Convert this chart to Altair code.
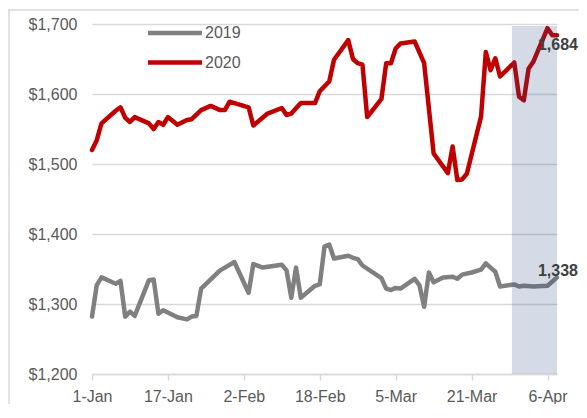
import json
import altair as alt
import pandas as pd

# ---- data (day offset from 1-Jan, gold price USD/oz) ----
days_2020 = [0, 1, 2, 5, 6, 7, 8, 9, 12, 13, 14, 15, 16, 18, 20, 21, 23, 25, 27, 28,
             29, 33, 34, 37, 40, 41, 42, 44, 47, 48, 50, 51, 54, 55, 56, 57, 58, 61,
             62, 63, 64, 65, 68, 70, 72, 75, 76, 77, 78, 79, 82, 83, 84, 85, 86, 89,
             90, 91, 92, 93, 96, 97, 98]
price_2020 = [1520, 1534, 1558, 1576, 1581, 1566, 1560, 1567, 1558, 1550, 1560, 1556,
              1567, 1556, 1563, 1564, 1577, 1583, 1577, 1577, 1589, 1581, 1555, 1572,
              1580, 1570, 1572, 1587, 1587, 1604, 1618, 1649, 1677, 1650, 1644, 1642,
              1567, 1593, 1644, 1644, 1665, 1672, 1675, 1644, 1515, 1487, 1525, 1477,
              1478, 1486, 1568, 1660, 1634, 1651, 1625, 1645, 1596, 1591, 1636, 1646,
              1694, 1684, 1684]

days_2019 = [0, 1, 2, 5, 6, 7, 8, 9, 12, 13, 14, 15, 18, 20, 21, 22, 23, 27, 28, 30,
             33, 34, 36, 40, 41, 42, 43, 44, 47, 48, 49, 50, 51, 54, 55, 56, 57, 61,
             62, 63, 64, 65, 68, 69, 70, 71, 72, 74, 76, 77, 78, 80, 82, 83, 84, 85,
             86, 89, 90, 91, 93, 96, 98]
price_2019 = [1282, 1327, 1338, 1329, 1333, 1282, 1289, 1283, 1334, 1335, 1286, 1291,
              1281, 1278, 1282, 1283, 1322, 1348, 1352, 1360, 1316, 1357, 1352, 1356,
              1348, 1309, 1352, 1309, 1326, 1328, 1382, 1385, 1365, 1369, 1366, 1364,
              1355, 1337, 1322, 1320, 1323, 1322, 1336, 1327, 1296, 1345, 1331, 1338,
              1339, 1336, 1342, 1345, 1349, 1358, 1352, 1346, 1325, 1328, 1325, 1326,
              1325, 1326, 1338]

series_names = ["2019", "2020"]
series_colors = ["#808080", "#C00000"]

tick_days = [0, 16, 32, 48, 64, 80, 96]
tick_labels = ["1-Jan", "17-Jan", "2-Feb", "18-Feb", "5-Mar", "21-Mar", "6-Apr"]
y_ticks = [1200, 1300, 1400, 1500, 1600, 1700]

band_start, band_end = 88.5, 98
band_low, band_high = 1200, 1697

FONT = "Liberation Sans"

# ---- tables ----
df = pd.concat([
    pd.DataFrame({"day": days_2019, "price": price_2019, "year": "2019"}),
    pd.DataFrame({"day": days_2020, "price": price_2020, "year": "2020"}),
], ignore_index=True)

band_df = pd.DataFrame({"x1": [band_start], "x2": [band_end],
                        "y1": [band_low], "y2": [band_high]})
last_2020 = pd.DataFrame({"day": [days_2020[-1]], "price": [price_2020[-1]]})
last_2019 = pd.DataFrame({"day": [days_2019[-1]], "price": [price_2019[-1]]})
one = pd.DataFrame({"k": [0]})

x_scale = alt.Scale(domain=[0, 98], nice=False, zero=False)
y_scale = alt.Scale(domain=[1200, 1700], nice=False, zero=False)

label_expr = f"{json.dumps(tick_labels)}[indexof({json.dumps(tick_days)}, datum.value)]"

x_axis = alt.Axis(values=tick_days, labelExpr=label_expr, title=None, grid=False,
                  domainColor="#D9D9D9", domainWidth=1.5, tickColor="#D9D9D9",
                  tickWidth=1.5, tickSize=6, labelPadding=8, labelFontSize=16,
                  labelColor="#595959", labelFont=FONT, labelFlush=False,
                  labelOverlap=False)
y_axis = alt.Axis(values=y_ticks, format="$,.0f", title=None, grid=True,
                  gridColor="#D9D9D9", gridWidth=1.5, domain=False, ticks=False,
                  tickSize=0, labelPadding=15, labelFontSize=16,
                  labelColor="#595959", labelFont=FONT, labelFlush=False)

lines = alt.Chart(df).mark_line(strokeWidth=4.5, strokeJoin="round", strokeCap="round").encode(
    x=alt.X("day:Q", scale=x_scale, axis=x_axis),
    y=alt.Y("price:Q", scale=y_scale, axis=y_axis),
    color=alt.Color("year:N", scale=alt.Scale(domain=series_names, range=series_colors),
                    legend=alt.Legend(orient="none", legendX=67, legendY=-7, title=None,
                                      symbolType="M-2,0H2", symbolSize=729,
                                      symbolStrokeWidth=4.5, labelFontSize=16,
                                      labelColor="#595959", labelFont=FONT,
                                      labelOffset=14, rowPadding=4.5)),
    order="day:Q",
)

band = alt.Chart(band_df).mark_rect(color="#284682", opacity=0.2).encode(
    x=alt.X("x1:Q", scale=x_scale), x2="x2:Q",
    y=alt.Y("y1:Q", scale=y_scale), y2="y2:Q",
)

lbl_2020 = alt.Chart(last_2020).mark_text(
    font=FONT, fontSize=16, fontWeight="bold", color="#404040",
    align="right", baseline="middle", dx=21, dy=10,
).encode(x=alt.X("day:Q", scale=x_scale), y=alt.Y("price:Q", scale=y_scale),
         text=alt.Text("price:Q", format=",.0f"))

lbl_2019 = alt.Chart(last_2019).mark_text(
    font=FONT, fontSize=16, fontWeight="bold", color="#404040",
    align="right", baseline="middle", dx=21, dy=-6,
).encode(x=alt.X("day:Q", scale=x_scale), y=alt.Y("price:Q", scale=y_scale),
         text=alt.Text("price:Q", format=",.0f"))

frame_top = alt.Chart(one).mark_rule(color="#D9D9D9", strokeWidth=1.5).encode(
    x=alt.value(-84), x2=alt.value(500), y=alt.value(-14))
frame_left = alt.Chart(one).mark_rule(color="#D9D9D9", strokeWidth=1.5).encode(
    x=alt.value(-83), y=alt.value(-14), y2=alt.value(400))

chart = alt.layer(frame_top, frame_left, lines, band, lbl_2020, lbl_2019).properties(
    width=465, height=350,
    padding={"left": 84, "top": 16, "right": 22, "bottom": 30},
    autosize=alt.AutoSizeParams(type="none"),
).configure_view(stroke=None)

chart.save("out.html", embed_options={"renderer": "svg", "actions": False})
